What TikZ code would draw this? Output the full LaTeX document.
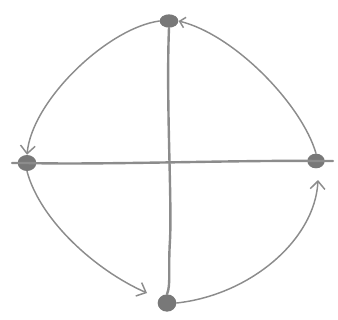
\documentclass[tikz,border=0pt]{standalone}
\usetikzlibrary{arrows.meta,shapes.geometric}
\definecolor{pencil}{RGB}{140,140,140}
\definecolor{dotc}{RGB}{120,120,120}
\begin{document}
\begin{tikzpicture}[x=0.75pt,y=-0.75pt,
  dotnode/.style={ellipse,fill=dotc,inner sep=0pt},
  arcline/.style={draw=pencil,line width=1.1pt,line cap=round},
  axisline/.style={draw=pencil,line width=1.8pt,line cap=round},
  tip/.style={-{Straight Barb[length=6pt,width=11pt,line width=1.1pt]}},
  smalltip/.style={-{Straight Barb[length=4pt,width=8pt,line width=1.1pt]}}]
\useasboundingbox (0,0) rectangle (338,320);
\node[dotnode,minimum width=14pt,minimum height=10pt] (top) at (169,21) {};
\node[dotnode,minimum width=14pt,minimum height=12pt] (left) at (27,163) {};
\node[dotnode,minimum width=13pt,minimum height=11pt] (right) at (316,161) {};
\node[dotnode,minimum width=14pt,minimum height=13pt] (bottom) at (167,303) {};
\coordinate (hl) at (12,163);
\coordinate (hr) at (333,161);
\coordinate (lb) at (147,293);
\coordinate (br) at (318,180);
% axes
\draw[axisline] (top.south) .. controls (166,100) and (172,200) .. (170,240) .. controls (168,270) and (171,285) .. (bottom.north);
\draw[axisline] (hl) -- (left.center) .. controls (100,165) and (240,160) .. (right.center) -- (hr);
% arcs
\draw[arcline,tip] (top.west) .. controls (108,28) and (32,100) .. (left.north);
\draw[arcline,smalltip] (right.north) .. controls (302,105) and (235,35) .. (top.east);
\draw[arcline,tip] (left.south) .. controls (40,220) and (95,270) .. (lb);
\draw[arcline,tip] (bottom.east) .. controls (250,295) and (315,240) .. (br);
\end{tikzpicture}
\end{document}
